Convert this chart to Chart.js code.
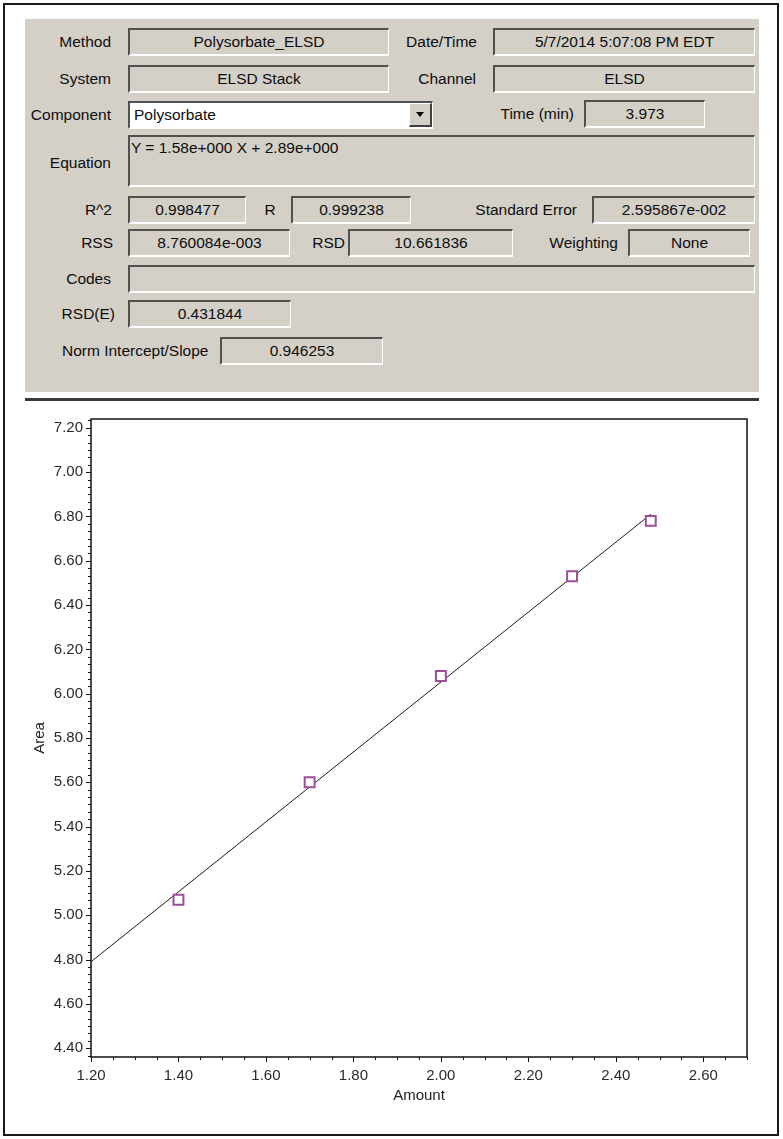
<!DOCTYPE html>
<html>
<head>
<meta charset="utf-8">
<title>Polysorbate ELSD calibration</title>
<script src="https://cdn.jsdelivr.net/npm/chart.js@4.4.1/dist/chart.umd.min.js"></script>
<style>
  body { margin: 0; background: #fff; width: 783px; height: 1139px; position: relative; overflow: hidden;
         font-family: "Liberation Sans", Arial, sans-serif; }
  #frame { position: absolute; left: 3px; top: 3px; width: 776px; height: 1133px;
           border: 2px solid #1a1a1a; box-sizing: border-box; }
  #panel { position: absolute; left: 25px; top: 19px; width: 734px; height: 373px; background: #d4d0c8; }
  #sep { position: absolute; left: 25px; top: 398px; width: 734px; height: 3px; background: #3a3a3a; }
  .lbl { position: absolute; height: 28px; line-height: 28px; font-size: 15.5px; color: #0d0d0d;
         white-space: nowrap; text-align: right; }
  .fld { position: absolute; box-sizing: border-box; height: 28px; background: #d4d0c8;
         border-top: 2px solid #505050; border-left: 2px solid #505050;
         border-right: 1px solid #fff; border-bottom: 2px solid #fff;
         display: flex; align-items: center; justify-content: center;
         font-size: 15.5px; color: #0d0d0d; white-space: nowrap; }
  #combo { background: #fff; justify-content: flex-start; padding-left: 4px; }
  #btn { position: absolute; left: 409px; top: 103px; width: 23px; height: 24px; box-sizing: border-box;
         background: #d4d0c8; border-top: 1px solid #fff; border-left: 1px solid #fff;
         border-right: 2px solid #404040; border-bottom: 2px solid #404040; }
  #btn:after { content: ""; position: absolute; left: 6px; top: 8px; border-left: 4px solid transparent;
         border-right: 4px solid transparent; border-top: 5px solid #000; }
  #eq { height: 52px; align-items: flex-start; justify-content: flex-start; padding: 2px 0 0 1px; line-height: 18px; }
  #chart { position: absolute; left: 5px; top: 402px; }
</style>
</head>
<body>
<div id="frame"></div>
<div id="panel"></div>
<div id="sep"></div>

<div class="lbl" style="left:11px;width:100px;top:28px">Method</div>
<div class="fld" style="left:128px;top:28px;width:261px">Polysorbate_ELSD</div>
<div class="lbl" style="left:377px;width:100px;top:28px">Date/Time</div>
<div class="fld" style="left:493px;top:28px;width:262px">5/7/2014 5:07:08 PM EDT</div>

<div class="lbl" style="left:11px;width:100px;top:65px">System</div>
<div class="fld" style="left:128px;top:65px;width:261px">ELSD Stack</div>
<div class="lbl" style="left:376px;width:100px;top:65px">Channel</div>
<div class="fld" style="left:493px;top:65px;width:262px">ELSD</div>

<div class="lbl" style="left:11px;width:100px;top:101px">Component</div>
<div class="fld" id="combo" style="left:128px;top:101px;width:305px">Polysorbate</div>
<div id="btn"></div>
<div class="lbl" style="left:474px;width:100px;top:100px">Time (min)</div>
<div class="fld" style="left:584px;top:100px;width:121px">3.973</div>

<div class="lbl" style="left:11px;width:100px;top:149px">Equation</div>
<div class="fld" id="eq" style="left:128px;top:135px;width:627px">Y = 1.58e+000 X + 2.89e+000</div>

<div class="lbl" style="left:12px;width:100px;top:196px">R^2</div>
<div class="fld" style="left:128px;top:196px;width:118px">0.998477</div>
<div class="lbl" style="left:250px;width:40px;top:196px;text-align:center">R</div>
<div class="fld" style="left:291px;top:196px;width:120px">0.999238</div>
<div class="lbl" style="left:427px;width:150px;top:196px">Standard Error</div>
<div class="fld" style="left:592px;top:196px;width:163px">2.595867e-002</div>

<div class="lbl" style="left:13px;width:100px;top:229px">RSS</div>
<div class="fld" style="left:128px;top:229px;width:162px">8.760084e-003</div>
<div class="lbl" style="left:295px;width:50px;top:229px">RSD</div>
<div class="fld" style="left:348px;top:229px;width:165px">10.661836</div>
<div class="lbl" style="left:518px;width:100px;top:229px">Weighting</div>
<div class="fld" style="left:628px;top:229px;width:122px">None</div>

<div class="lbl" style="left:11px;width:100px;top:265px">Codes</div>
<div class="fld" style="left:128px;top:265px;width:627px"></div>

<div class="lbl" style="left:15px;width:100px;top:300px">RSD(E)</div>
<div class="fld" style="left:128px;top:300px;width:163px">0.431844</div>

<div class="lbl" style="left:62px;top:337px;text-align:left">Norm Intercept/Slope</div>
<div class="fld" style="left:220px;top:337px;width:163px">0.946253</div>

<canvas id="chart" width="770" height="730"></canvas>

<script>
// Calibration standards
const amounts = [1.40, 1.70, 2.00, 2.30, 2.48];
const areas = [5.07, 5.60, 6.08, 6.53, 6.78];

// Regression line end points (Y = 1.58 X + 2.89 as drawn)
const fitAmounts = [1.20, 2.48];
const fitAreas = [4.79, 6.81];

// Axis ranges and labelled ticks
const xRange = [1.20, 2.70];
const yRange = [4.36, 7.24];
const xTicks = [1.20, 1.40, 1.60, 1.80, 2.00, 2.20, 2.40, 2.60];
const yTicks = [4.40, 4.60, 4.80, 5.00, 5.20, 5.40, 5.60, 5.80, 6.00, 6.20, 6.40, 6.60, 6.80, 7.00, 7.20];

const X_MINOR = 0.05;
const Y_MINOR = 0.2 / 6;
const FONT = 'Liberation Sans';

const toPoints = (xs, ys) => xs.map((x, i) => ({ x: x, y: ys[i] }));

// Plot frame plus major/minor tick marks, drawn from the scales
const frameAndTicks = {
  id: 'frameAndTicks',
  afterDraw(chart) {
    const { ctx, chartArea: a, scales: { x, y } } = chart;
    ctx.save();
    ctx.strokeStyle = '#111';
    ctx.lineWidth = 1;
    const isMajor = v => Math.abs(v / 0.2 - Math.round(v / 0.2)) < 1e-6;

    ctx.beginPath();
    const nx = Math.round((x.max - x.min) / X_MINOR);
    for (let i = 0; i <= nx; i++) {
      const v = x.min + i * X_MINOR;
      const px = Math.round(x.getPixelForValue(v)) + 0.5;
      ctx.moveTo(px, a.bottom);
      ctx.lineTo(px, a.bottom + (isMajor(v) ? 5 : 3));
    }
    const first = Math.ceil(y.min / Y_MINOR - 1e-6);
    const last = Math.floor(y.max / Y_MINOR + 1e-6);
    for (let i = first; i <= last; i++) {
      const v = i * Y_MINOR;
      const py = Math.round(y.getPixelForValue(v)) + 0.5;
      ctx.moveTo(a.left, py);
      ctx.lineTo(a.left - (isMajor(v) ? 5 : 3), py);
    }
    ctx.stroke();

    ctx.lineWidth = 1.5;
    ctx.strokeRect(a.left, a.top, a.right - a.left, a.bottom - a.top);
    ctx.restore();
  }
};

const tickFont = { family: FONT, size: 15 };

new Chart(document.getElementById('chart'), {
  type: 'scatter',
  data: {
    datasets: [
      {
        label: 'Standards',
        data: toPoints(amounts, areas),
        pointStyle: 'rect',
        pointRadius: 7,
        borderWidth: 2,
        borderColor: '#9c4f98',
        backgroundColor: '#ffffff',
        order: 0
      },
      {
        label: 'Fit',
        data: toPoints(fitAmounts, fitAreas),
        showLine: true,
        pointRadius: 0,
        borderWidth: 1,
        borderColor: '#1a1a1a',
        order: 1
      }
    ]
  },
  options: {
    responsive: false,
    animation: false,
    layout: { padding: { left: 0, right: 28, top: 11, bottom: 15 } },
    plugins: { legend: { display: false }, tooltip: { enabled: false } },
    scales: {
      x: {
        type: 'linear',
        min: xRange[0],
        max: xRange[1],
        afterBuildTicks: s => { s.ticks = xTicks.map(v => ({ value: v })); },
        afterFit: s => { s.height = 60; },
        grid: { display: false, drawTicks: false },
        border: { display: false },
        ticks: {
          callback: v => v.toFixed(2),
          padding: 10,
          maxRotation: 0,
          autoSkip: false,
          color: '#2a2a2a',
          font: tickFont
        },
        title: {
          display: true,
          text: 'Amount',
          color: '#222',
          font: { family: FONT, size: 15 },
          padding: { top: 0, bottom: 12 }
        }
      },
      y: {
        type: 'linear',
        min: yRange[0],
        max: yRange[1],
        afterBuildTicks: s => { s.ticks = yTicks.map(v => ({ value: v })); },
        afterFit: s => { s.width = 86; },
        grid: { display: false, drawTicks: false },
        border: { display: false },
        ticks: {
          callback: v => v.toFixed(2),
          padding: 8,
          autoSkip: false,
          color: '#2a2a2a',
          font: tickFont
        },
        title: {
          display: true,
          text: 'Area',
          color: '#222',
          font: { family: FONT, size: 15 },
          padding: { top: 26, bottom: 0 }
        }
      }
    }
  },
  plugins: [frameAndTicks]
});
</script>
</body>
</html>
